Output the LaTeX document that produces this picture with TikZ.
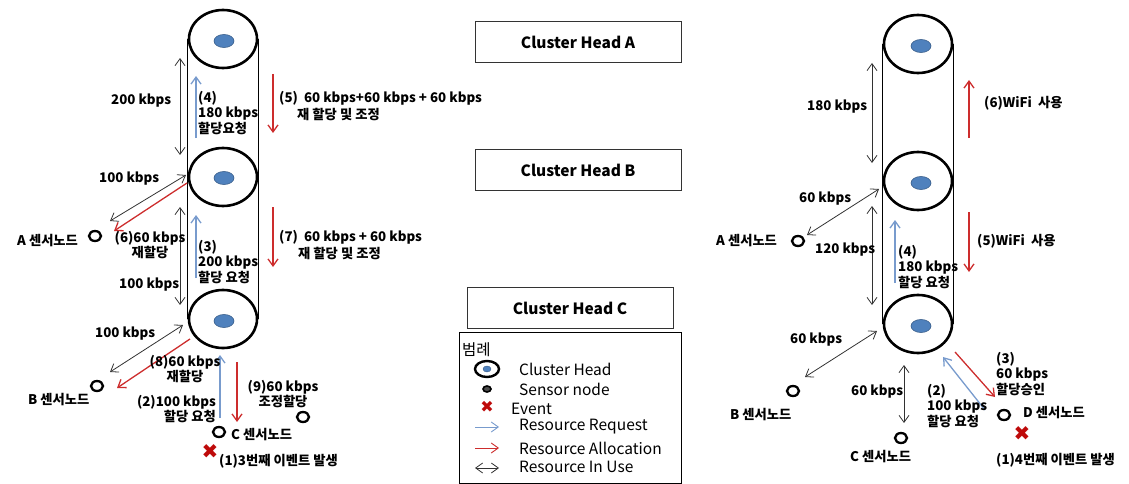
\documentclass[tikz,border=0pt]{standalone}
\usepackage{fontspec}
\setmainfont{Noto Sans CJK KR}
\newfontfamily\djv{DejaVu Sans}
\usetikzlibrary{arrows.meta,shapes.geometric,backgrounds}
\definecolor{reqc}{RGB}{120,155,205}
\definecolor{allc}{RGB}{205,45,45}
\definecolor{usec}{RGB}{50,50,50}
\definecolor{dotc}{RGB}{79,129,189}
\definecolor{dotb}{RGB}{56,93,138}
\definecolor{evc}{RGB}{190,10,10}
\begin{document}
\begin{tikzpicture}[x=1pt,y=-1pt,
 chead/.style={ellipse,draw=black,line width=2.6pt,fill=white,minimum width=68pt,minimum height=58pt,inner sep=0pt},
 bdot/.style={ellipse,fill=dotc,draw=dotb,line width=0.6pt,minimum width=20pt,minimum height=13pt,inner sep=0pt},
 snode/.style={ellipse,draw=black,line width=2.3pt,minimum width=12pt,minimum height=10pt,inner sep=0pt},
 evnt/.style={text=evc,font=\djv\fontsize{20}{20}\selectfont,inner sep=0pt},
 lbl/.style={font=\bfseries\fontsize{13.3}{15.5}\selectfont,inner sep=0pt,anchor=west,align=left},
 cbox/.style={draw=black!80,line width=1pt,minimum width=206pt,minimum height=41pt,font=\bfseries\fontsize{15.5}{17}\selectfont},
 leg/.style={font=\fontsize{15.5}{17}\selectfont,inner sep=0pt,anchor=west},
 cyl/.style={line width=1pt},
 use/.style={usec,line width=0.8pt,{Straight Barb[length=7pt,width=10pt]}-{Straight Barb[length=7pt,width=10pt]}},
 req/.style={reqc,line width=1.3pt,-{Straight Barb[length=7pt,width=10pt]}},
 alloc/.style={allc,line width=1.3pt,-{Straight Barb[length=7pt,width=10pt]}}
]
\useasboundingbox (0,0) rectangle (1129,484);

% ---------------- left diagram ----------------
\node[chead] (chA) at (223,39) {};
\node[chead] (chB) at (223,177) {};
\node[chead] (chC) at (223,319) {};
\node[bdot] (dA) at (224,41) {};
\node[bdot] (dB) at (224,178) {};
\node[bdot] (dC) at (224,321) {};
\begin{scope}[on background layer]
\draw[cyl] (chA.west) -- (chC.west);
\draw[cyl] (chA.east) -- (chC.east);
\end{scope}

\node[snode] (sA) at (95,236) {};
\node[snode] (sB) at (97,386) {};
\node[snode] (sD) at (303,417) {};
\node[snode] (sC) at (219,432) {};
\node[evnt] (ev1) at (210,452) {✖};

\coordinate (u1a) at (180,58);  \coordinate (u1b) at (180,155);
\coordinate (r4a) at (196,138); \coordinate (r4b) at (196,76);
\coordinate (a5a) at (273,74);  \coordinate (a5b) at (273,133);
\coordinate (u2a) at (186,175); \coordinate (u2b) at (110,221);
\coordinate (a6a) at (187,183); \coordinate (a6b) at (114,231);
\coordinate (u3a) at (180,207); \coordinate (u3b) at (180,305);
\coordinate (r3a) at (196,278); \coordinate (r3b) at (196,215);
\coordinate (a7a) at (273,207); \coordinate (a7b) at (273,267);
\coordinate (u4a) at (183,325); \coordinate (u4b) at (110,372);
\coordinate (a8a) at (190,339); \coordinate (a8b) at (117,388);
\coordinate (r2a) at (220,418); \coordinate (r2b) at (220,355);
\coordinate (a9a) at (237,362); \coordinate (a9b) at (237,422);

\draw[use] (u1a) -- (u1b);
\draw[req] (r4a) -- (r4b);
\draw[alloc] (a5a) -- (a5b);
\draw[use] (u2a) -- (u2b);
\draw[alloc] (a6a) -- (a6b);
\draw[use] (u3a) -- (u3b);
\draw[req] (r3a) -- (r3b);
\draw[alloc] (a7a) -- (a7b);
\draw[use] (u4a) -- (u4b);
\draw[alloc] (a8a) -- (a8b);
\draw[req] (r2a) -- (r2b);
\draw[alloc] (a9a) -- (a9b);

\node[lbl] (t1) at (111,101) {200 kbps};
\node[lbl] (t2) at (198,113) {(4)\\180 kbps\\할당요청};
\node[lbl] (t3) at (279,98) {(5)\ \ 60 kbps+60 kbps + 60 kbps};
\node[lbl] (t4) at (297,114) {재 할당 및 조정};
\node[lbl] (t5) at (99,179) {100 kbps};
\node[lbl] (t6) at (17,241) {A 센서노드};
\node[lbl,anchor=center,align=center] (t7) at (150,245) {(6)60 kbps\\재할당};
\node[lbl] (t8) at (198,262) {(3)\\200 kbps\\할당 요청};
\node[lbl] (t9) at (279,237) {(7)\ \ 60 kbps + 60 kbps};
\node[lbl] (t10) at (298,253) {재 할당 및 조정};
\node[lbl] (t11) at (119,285) {100 kbps};
\node[lbl] (t12) at (95,334) {100 kbps};
\node[lbl,anchor=center,align=center] (t13) at (185,369) {(8)60 kbps\\재할당};
\node[lbl] (t14) at (28,400) {B 센서노드};
\node[lbl,anchor=east,align=right] (t15) at (216,409) {(2)100 kbps\\할당 요청};
\node[lbl,anchor=center,align=center] (t16) at (283,394) {(9)60 kbps\\조정할당};
\node[lbl] (t17) at (231,435) {C 센서노드};
\node[lbl] (t18) at (219,461) {(1)3번째 이벤트 발생};

% ---------------- middle ----------------
\node[cbox] (bA) at (578,42.5) {Cluster Head A};
\node[cbox] (bB) at (578,170) {Cluster Head B};
\node[cbox] (bC) at (570,308) {Cluster Head C};
\node[draw=black,line width=1pt,minimum width=222pt,minimum height=151pt,inner sep=0pt] (legbox) at (570,407.5) {};
\node[leg] (lt) at (462,350) {범례};
\node[ellipse,draw=black,line width=2.4pt,minimum width=24pt,minimum height=16pt,inner sep=0pt] (lch) at (487,369) {};
\node[ellipse,fill=dotc,draw=dotb,line width=0.4pt,minimum width=8pt,minimum height=6pt,inner sep=0pt] (lchd) at (487,369) {};
\node[ellipse,draw=black,fill=black!70,line width=1.6pt,minimum width=8pt,minimum height=6pt,inner sep=0pt] (lsn) at (487,389) {};
\node[evnt,font=\djv\fontsize{16}{16}\selectfont] (lev) at (487,407) {✖};
\coordinate (lra) at (475,427); \coordinate (lrb) at (499,427);
\coordinate (laa) at (475,448); \coordinate (lab) at (499,448);
\coordinate (lua) at (475,468); \coordinate (lub) at (499,468);
\draw[req,line width=0.9pt] (lra) -- (lrb);
\draw[alloc,line width=0.9pt] (laa) -- (lab);
\draw[use] (lua) -- (lub);
\node[leg] (l1) at (519,369) {Cluster Head};
\node[leg] (l2) at (519,389) {Sensor node};
\node[leg] (l3) at (511,409) {Event};
\node[leg] (l4) at (519,427) {Resource Request};
\node[leg] (l5) at (519,448) {Resource Allocation};
\node[leg] (l6) at (519,467) {Resource In Use};

% ---------------- right diagram ----------------
\node[chead] (rA) at (918,44) {};
\node[chead] (rB) at (918,181) {};
\node[chead] (rC) at (918,324) {};
\node[bdot] (rdA) at (921,46) {};
\node[bdot] (rdB) at (921,183) {};
\node[bdot] (rdC) at (921,326) {};
\begin{scope}[on background layer]
\draw[cyl] (rA.west) -- (rC.west);
\draw[cyl] (rA.east) -- (rC.east);
\end{scope}

\node[snode] (rsA) at (798,241) {};
\node[snode] (rsB) at (793,391) {};
\node[snode] (rsC) at (901,438) {};
\node[snode] (rsD) at (1004,415) {};
\node[evnt] (ev2) at (1022,434) {✖};

\coordinate (v1a) at (872,63);  \coordinate (v1b) at (872,163);
\coordinate (b6a) at (969,138); \coordinate (b6b) at (969,80);
\coordinate (v2a) at (879,189); \coordinate (v2b) at (807,235);
\coordinate (v3a) at (872,206); \coordinate (v3b) at (872,305);
\coordinate (q4a) at (895,283); \coordinate (q4b) at (895,220);
\coordinate (b5a) at (969,212); \coordinate (b5b) at (969,272);
\coordinate (v4a) at (877,331); \coordinate (v4b) at (805,377);
\coordinate (v5a) at (904,365); \coordinate (v5b) at (904,423);
\coordinate (q2a) at (985,410); \coordinate (q2b) at (943,357);
\coordinate (b3a) at (955,352); \coordinate (b3b) at (995,397);

\draw[use] (v1a) -- (v1b);
\draw[alloc] (b6a) -- (b6b);
\draw[use] (v2a) -- (v2b);
\draw[use] (v3a) -- (v3b);
\draw[req] (q4a) -- (q4b);
\draw[alloc] (b5a) -- (b5b);
\draw[use] (v4a) -- (v4b);
\draw[use] (v5a) -- (v5b);
\draw[req] (q2a) -- (q2b);
\draw[alloc] (b3a) -- (b3b);

\node[lbl] (s1) at (807,107) {180 kbps};
\node[lbl] (s2) at (984,103) {(6)WiFi\ \ 사용};
\node[lbl] (s3) at (799,199) {60 kbps};
\node[lbl] (s4) at (716,241) {A 센서노드};
\node[lbl] (s5) at (815,250) {120 kbps};
\node[lbl] (s6) at (898,267) {(4)\\180 kbps\\할당 요청};
\node[lbl] (s7) at (977,241) {(5)WiFi\ \ 사용};
\node[lbl] (s8) at (790,340) {60 kbps};
\node[lbl] (s9) at (730,415) {B 센서노드};
\node[lbl] (s10) at (851,392) {60 kbps};
\node[lbl] (s11) at (850,457) {C 센서노드};
\node[lbl] (s12) at (927,406) {(2)\\100 kbps\\할당 요청};
\node[lbl] (s13) at (996,374) {(3)\\60 kbps\\할당승인};
\node[lbl] (s14) at (1023,413) {D 센서노드};
\node[lbl] (s15) at (996,460) {(1)4번째 이벤트 발생};
\end{tikzpicture}
\end{document}
